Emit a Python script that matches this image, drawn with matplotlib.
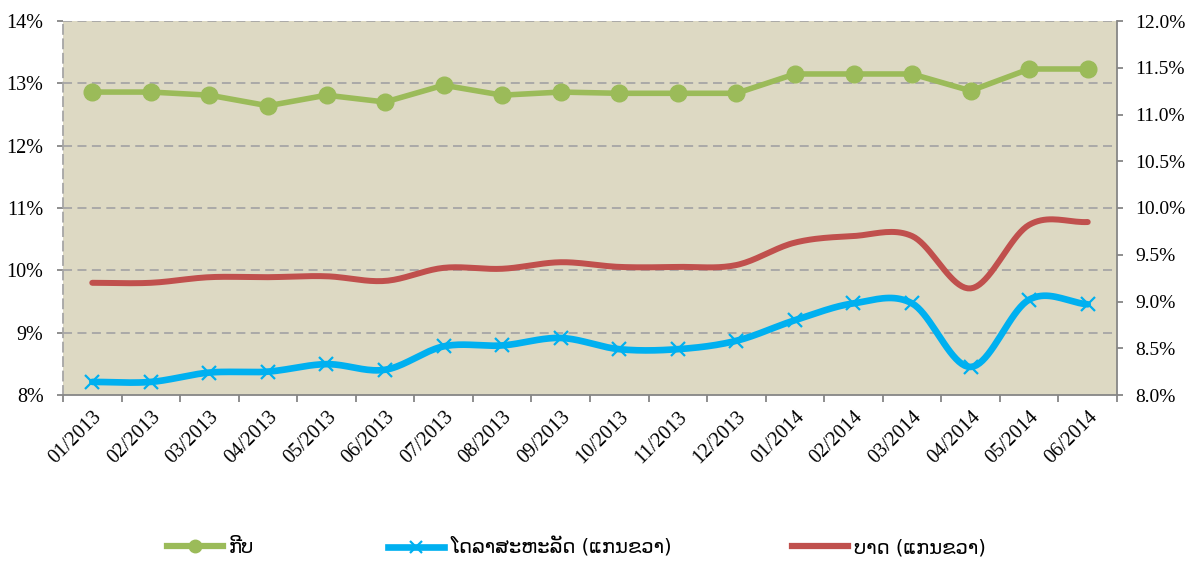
import numpy as np
import matplotlib
matplotlib.use("Agg")
import matplotlib.pyplot as plt
from matplotlib.ticker import FuncFormatter, MultipleLocator

months = ["01/2013", "02/2013", "03/2013", "04/2013", "05/2013", "06/2013",
          "07/2013", "08/2013", "09/2013", "10/2013", "11/2013", "12/2013",
          "01/2014", "02/2014", "03/2014", "04/2014", "05/2014", "06/2014"]
# ກີບ (left axis)
kip = [12.86, 12.86, 12.81, 12.64, 12.81, 12.70, 12.97, 12.81, 12.86,
       12.84, 12.84, 12.84, 13.15, 13.15, 13.15, 12.88, 13.23, 13.23]
# ໂດລາ (right axis)
usd = [8.14, 8.14, 8.24, 8.25, 8.33, 8.27, 8.52, 8.53, 8.61,
       8.49, 8.49, 8.58, 8.80, 8.98, 8.98, 8.30, 9.02, 8.97]
# ບາດ (right axis)
thb = [9.20, 9.20, 9.26, 9.26, 9.27, 9.22, 9.36, 9.35, 9.42,
       9.37, 9.37, 9.39, 9.63, 9.70, 9.70, 9.14, 9.82, 9.85]
labels = ["ກີບ", "ໂດລາສະຫະລັດ (ແກນຂວາ)", "ບາດ (ແກນຂວາ)"]

GREEN = "#9BBB59"
BLUE = "#00B0F0"
RED = "#C0504D"


def smooth(x, y, n=20):
    # catmull-rom, roughly what excel does for "smoothed line"
    x = np.asarray(x, float)
    y = np.asarray(y, float)
    px = np.concatenate([[2 * x[0] - x[1]], x, [2 * x[-1] - x[-2]]])
    py = np.concatenate([[2 * y[0] - y[1]], y, [2 * y[-1] - y[-2]]])
    xs, ys = [], []
    t = np.linspace(0, 1, n, endpoint=False)
    for i in range(1, len(px) - 2):
        for p, out in ((px, xs), (py, ys)):
            p0, p1, p2, p3 = p[i - 1], p[i], p[i + 1], p[i + 2]
            out.extend(0.5 * (2 * p1 + (-p0 + p2) * t
                              + (2 * p0 - 5 * p1 + 4 * p2 - p3) * t ** 2
                              + (-p0 + 3 * p1 - 3 * p2 + p3) * t ** 3))
    xs.append(x[-1])
    ys.append(y[-1])
    return np.array(xs), np.array(ys)


plt.rcParams["font.family"] = ["Liberation Serif", "DejaVu Sans"]

fig = plt.figure(figsize=(11.87, 5.61), dpi=100)
ax = fig.add_axes([63 / 1187, 1 - 395 / 561, 1054 / 1187, 374 / 561])
ax2 = ax.twinx()
ax.set_zorder(ax2.get_zorder() + 1)
ax.patch.set_visible(False)
ax2.patch.set_visible(True)
ax2.patch.set_facecolor("#DDD9C3")

x = np.arange(len(months))

ax.set_xlim(-0.5, len(months) - 0.5)
ax.set_ylim(8, 14)
ax2.set_ylim(8, 12)
ax.yaxis.set_major_locator(MultipleLocator(1))
ax2.yaxis.set_major_locator(MultipleLocator(0.5))
ax.yaxis.set_major_formatter(FuncFormatter(lambda v, p: "%d%%" % round(v)))
ax2.yaxis.set_major_formatter(FuncFormatter(lambda v, p: "%.1f%%" % v))

for yv in range(9, 15):
    ax2.axhline(8 + (yv - 8) * 4 / 6, color="#A6A6A6", lw=1.3, ls=(0, (5, 3)), zorder=1)

sx, sy = smooth(x, thb)
ax2.plot(sx, sy, color=RED, lw=4.3, solid_capstyle="round", zorder=3)
sx, sy = smooth(x, usd)
ax2.plot(sx, sy, color=BLUE, lw=4.8, solid_capstyle="round", zorder=3)
ax2.plot(x, usd, ls="none", marker="x", ms=10, mew=1.6, color=BLUE, zorder=4)
ax.plot(x, kip, color=GREEN, lw=4, marker="o", ms=12, zorder=5)

ax.set_xticks(np.arange(len(months) + 1) - 0.5, minor=False)
ax.set_xticklabels([])
ax.set_xticks(x, minor=True)
ax.set_xticklabels(months, minor=True, rotation=45, ha="right", va="top",
                   rotation_mode="anchor", fontsize=14.5)
ax.tick_params(axis="x", which="major", length=5, color="#868686", width=1.3)
ax.tick_params(axis="x", which="minor", length=0, pad=9)
ax.tick_params(axis="y", length=4, color="#868686", width=1.3, labelsize=14.5, pad=10)
ax2.tick_params(axis="y", length=4, color="#868686", width=1.3, labelsize=14, pad=9)
ax2.tick_params(axis="x", length=0)

for a in (ax, ax2):
    for s in a.spines.values():
        s.set_color("#868686")
        s.set_linewidth(1.3)
    a.spines["top"].set_visible(False)
ax.spines["left"].set_linestyle((0, (5, 3)))
ax.spines["left"].set_color("#A6A6A6")
ax2.spines["left"].set_visible(False)
ax.spines["right"].set_visible(False)
ax2.spines["bottom"].set_visible(False)

h1, = ax.plot([], [], color=GREEN, lw=4.5, marker="o", ms=9)
h2, = ax.plot([], [], color=BLUE, lw=4.8, marker="x", ms=9, mew=1.6)
h3, = ax.plot([], [], color=RED, lw=4.5)
for h, lab, x0 in ((h1, labels[0], 167), (h2, labels[1], 388), (h3, labels[2], 792)):
    leg = fig.legend([h], [lab], loc="center left", bbox_to_anchor=(x0 / 1187, 0.024),
                     frameon=False, handlelength=2.9, handletextpad=0.3,
                     borderpad=0, borderaxespad=0,
                     prop={"family": ["DejaVu Sans"], "size": 14})

fig.savefig("out.png", dpi=100)
